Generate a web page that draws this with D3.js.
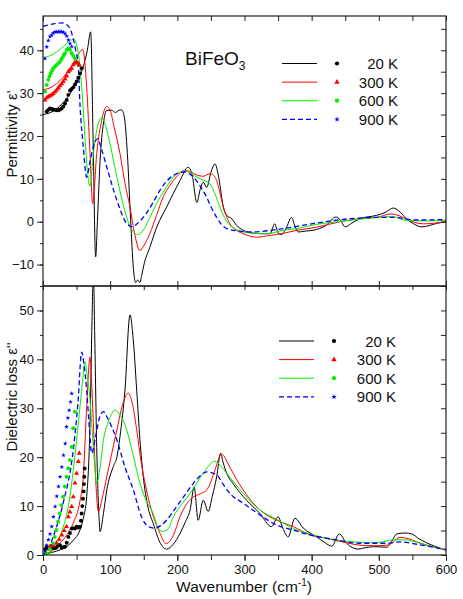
<!DOCTYPE html>
<html>
<head>
<meta charset="utf-8">
<script src="https://cdn.jsdelivr.net/npm/d3@7"></script>
<style>
  body { margin: 0; background: #fff; }
  #chart text { font-family: "Liberation Sans", Arial, Helvetica, sans-serif; fill: #111; }
</style>
</head>
<body>
<div id="chart"></div>
<script>
// Temperatures (legend order)
const temps = ["20 K", "300 K", "600 K", "900 K"];

// Permittivity eps' fits, [wavenumber, value]
const epsReal20 = [[0,25],[10,25.4],[20,26.3],[30,27.8],[40,29.8],[50,32.5],[60,36.2],[66,40],[71,44.3],[74.5,20],[78.4,-8.2],[81,0],[85,14.3],[90,23],[95,26],[102,26],[108,25.5],[113,26],[117,26.1],[121,24.5],[125.6,15.9],[130.5,0.3],[134.5,-10.7],[138,-14.2],[141,-13.6],[144,-14.2],[147,-12.5],[150,-10.2],[159,-6],[170,-1],[184,3.4],[204,9.6],[216,12.7],[222,11],[229,4.5],[234,7.5],[238.6,9.2],[243.7,8],[250,11.5],[256,13.5],[262,10],[268.5,3.4],[273.5,1.5],[281,0.7],[288,-0.8],[298,-2],[310,-2.6],[325,-2.8],[338,-2.8],[345,-0.5],[350,-2.6],[355,-3],[362,-1.5],[370,1],[375,-1],[380,-2.4],[390,-2.2],[402,-2],[422,-0.8],[436,1.1],[442,0.5],[450,-1.2],[460,-0.3],[472,0.7],[497,1.5],[510,2.2],[521.5,3.2],[530,2.5],[541,0.7],[552,-0.5],[564,-1.2],[575,-0.9],[586,-0.4],[600,0]];
const epsReal300 = [[0,30.8],[10,31.2],[20,32.2],[30,33.7],[40,35.7],[50,38.3],[59,40.2],[65,31.5],[70,15.9],[74,4.2],[80,15.9],[87.4,23.7],[95,26.9],[100,26],[106,22],[114.6,15.9],[122,9],[129.5,3.4],[136,-2.5],[144.4,-6.7],[150,-5.6],[159,-2.8],[169,1.5],[179,5.8],[189,8.5],[199,10.5],[211,12],[220,11.6],[229,10.9],[238.6,10.6],[248.6,11.2],[254,10.8],[258.6,9.6],[263,7],[268.5,3.4],[278,-0.4],[288,-2],[298,-2.8],[318,-3.6],[338,-3.2],[358,-2.7],[378,-2],[407,-1.3],[442,0],[472,0.7],[497,1.0],[517,1.8],[530,1.4],[541,0.6],[566,-0.5],[600,0]];
const epsReal600 = [[0,38.3],[10,38.7],[20,39.6],[30,40.8],[40,42.2],[46,42.6],[52.6,39.3],[57.6,31.5],[62.5,19.8],[66,12],[70,8.3],[75,15.9],[81,22.1],[87.4,24.3],[92,23],[100,18],[110,10.4],[117,5.5],[124.6,1.0],[132,-1.8],[141,-3],[150,-1.8],[159,1.0],[169,4.2],[179,6.9],[189,9.3],[199,11.2],[211,11.8],[220,11.3],[229,10.4],[240,9.6],[248.6,8.8],[256,6.5],[263.5,3.4],[270,1],[278,-0.8],[288,-1.8],[298,-2.4],[333,-2.8],[358,-2],[378,-1.6],[407,-0.6],[440,0],[472,0.6],[497,1.0],[521,1.2],[541,0.3],[570,0.2],[600,0.3]];
const epsReal900 = [[0,45.6],[10,46],[20,46.3],[28,46.4],[35,46],[43,43.9],[48,40.5],[52.6,36.1],[55,27.5],[60,17.4],[65,10.4],[70,14],[75,17.5],[81,19.4],[87,17],[95,12.7],[110,5.0],[124.6,-0.4],[133,-1.2],[140,-0.5],[154,2.0],[164,4.5],[174,7.3],[194,10.8],[211,11.6],[224,10.4],[234,8.3],[243.7,5.7],[250,3.5],[258.6,1.0],[265,-0.5],[273.5,-1.6],[293,-2.2],[308,-2.4],[358,-1.6],[407,-0.3],[457,0.7],[497,1.0],[521,1.0],[556,0.4],[600,0.5]];

// Permittivity eps' measured points (low frequency)
const epsRealPts20 = [[5.5,25.7],[8,26.1],[10.4,26.4],[13,26.3],[15.3,26.2],[18,26.1],[20.4,26],[22.8,26],[25.3,26.2],[27.8,26.4],[30.2,26.9],[32.8,27.6],[35.3,28.4],[37.7,29.6],[40.2,30.6],[42.7,31],[45.1,31.4],[47.6,32],[50.1,32.7],[52.6,33.6],[55,34.6],[57.6,35.8]];
const epsRealPts300 = [[3,28.4],[5.5,28.9],[7.9,29.2],[10.4,29.4],[12.9,29.6],[15.3,29.9],[17.9,30.3],[20.4,30.7],[22.8,31.2],[25.3,31.7],[27.8,32.2],[30.2,32.7],[32.8,33.3],[35.3,34],[37.7,35],[40.2,35.4],[42.7,35.8],[45.1,36.6],[47.6,37],[50.1,37.3],[52,37],[54,36.6]];
const epsRealPts600 = [[3,30.4],[5.5,31.9],[7.9,33.1],[9.6,33.9],[11.4,34.6],[13.3,35.2],[15.3,35.8],[17.9,36.2],[20.4,36.6],[22.8,37],[25.3,37.3],[27.3,37.9],[29.3,38.4],[31,38.9],[32.8,39.3],[35.3,40.1],[37.7,40.5],[40.2,40.1],[42.7,39.3],[45.1,38.7],[47.6,38.1]];
const epsRealPts900 = [[3,38.1],[5.5,40.8],[7.9,42.3],[10.4,43.2],[12.9,43.5],[15.3,44],[17.9,44.3],[20.4,44.3],[22.8,44.3],[25.3,44.4],[27.8,44.3],[30.2,44.2],[32.8,43.9],[35.3,43.3],[37.7,42.4],[40.2,41.6],[42.7,40.9]];

// Dielectric loss eps'' fits
const epsImag20 = [[0,0],[10,0.4],[20,0.8],[35,1.7],[45,3],[55,5.1],[60,7.5],[65,11.9],[70,27],[73,48],[75,58],[77,45],[80,22],[83,9],[85,4.8],[90,8.5],[95,13.3],[104.7,18.1],[110,20],[114.6,24.2],[122,33.7],[129.5,49.1],[134.4,44],[139.5,33.7],[144.4,23.5],[149.3,16],[156,10],[164,6.5],[174,2.6],[184,1.2],[194,2.2],[204,4.4],[212,6.8],[219,9.2],[225,13.9],[231,7.1],[238.6,11.2],[246,8.9],[252,12],[258.6,16],[264.5,20.8],[268,19],[273.5,16.7],[283,14.6],[303,11.2],[323,8.5],[340,5.8],[350,7.8],[357,5.5],[365,3.7],[375,7.5],[387.5,5.5],[407.5,3.7],[420,2.5],[430,1.8],[441,4.3],[452,2.4],[469,1.2],[480,1.5],[492,1.7],[512,1.6],[520,3],[526.6,4.3],[540,4.5],[549,4.3],[560,3.3],[571,2.5],[585,1.7],[600,1.0]];
const epsImag300 = [[0,0],[10,0.6],[25,2.4],[35,4],[45,6.5],[55,11],[60,16],[65,30.3],[70,40.5],[72.5,35],[75,26.9],[79,14],[82.4,8.9],[88,11.5],[95,16],[102,20.5],[110,25.6],[118,30.5],[127,33.1],[133,31],[139.5,25.6],[146.7,18.5],[154,13.3],[164,8],[174,4.5],[183,2.3],[194,4],[204,7.8],[214,10.5],[224,11.9],[234,12.5],[243.7,13.3],[250,15],[256,17.4],[266,20.6],[278,18],[288,15.5],[298,13.3],[323,9.2],[348,7.1],[372.6,5.8],[397.5,4.1],[422,3.4],[452,2.5],[472,2.0],[492,1.9],[512,2.0],[522,2.8],[531.5,3.6],[545,3.3],[556,2.7],[580,1.7],[600,1.0]];
const epsImag600 = [[0,0],[10,0.3],[25,3.7],[40,11.9],[50,23.5],[57.6,33.7],[62.5,39.5],[66,36.5],[70,31.7],[75,22],[80,14.7],[85,18],[90,23.5],[98,27.5],[107,29.6],[115,28.6],[124.6,25.6],[134,20.5],[144.4,14.7],[154,11],[164,8.5],[170,6],[177,4.8],[186,5.3],[194,7.8],[206,10.3],[219,12.6],[238.6,16.7],[256,19.2],[264,18.3],[273.5,16.7],[298,12.6],[323,9.2],[348,7.3],[372.6,5.4],[397.5,4.3],[422,3.4],[447,2.9],[472,2.6],[492,2.5],[510,2.8],[521.5,3.1],[541,3.1],[556,2.6],[571,2.0],[600,1.1]];
const epsImag900 = [[0,0.3],[5,0.3],[15,3.7],[30,10.6],[45,21.4],[52,31],[57.6,41.5],[61,39],[65,33.7],[69,26],[72.5,20.8],[78,24],[84,28],[90,29.3],[96,28],[110,23.5],[122,18],[134.5,13.3],[146.7,7.8],[157,5.8],[166,5.5],[175,6],[184,7.1],[199,9.9],[214,12.8],[224,14.7],[235,16.3],[243.7,17],[258.6,16.4],[268,14.5],[278,12.6],[298,10.6],[323,8.2],[348,6.1],[372.6,5.1],[397.5,4.1],[432,3.2],[472,2.4],[512,2.4],[531.5,2.7],[556,2.2],[600,1.1]];

// Dielectric loss eps'' measured points
const epsImagPts20 = [[3,1.2],[5.5,1.7],[8,1.3],[10.4,1.5],[13,1.9],[15.3,1.4],[18,1.4],[20.4,1.6],[22.8,2.0],[25.3,2.0],[27.8,1.5],[30.2,1.6],[32.8,1.7],[35.3,2.5],[37.7,3.7],[40.2,4.5],[42.7,5.4],[45.1,5.5],[47.6,5.4],[50,5.8],[52.6,5.6],[55,5.8],[56.5,7],[57.5,8.5],[58.5,10],[59.5,11.5],[60.5,13],[61,14.5],[61.5,16],[62,17.7]];
const epsImagPts300 = [[10.4,1.7],[15,2],[20,2.4],[24,3.2],[28,4.1],[31.5,5],[35,5.8],[37.7,7.8],[40,8.8],[42.7,9.9],[45,11.9],[47.6,14.7],[50,16.7],[52.6,19.1],[54,20.8]];
const epsImagPts600 = [[5.5,0.3],[10,1.2],[15,2.4],[17.5,3.7],[20,5.1],[22.5,6.8],[25,8.5],[27.5,10.2],[30,11.9],[32.5,14],[35,16],[37.5,17.7],[40,19.4],[42.7,22.1],[45,25.9],[47.6,29.3]];
const epsImagPts900 = [[3,0.7],[5.5,2],[8,3.1],[10.5,4.3],[13,5.8],[15.5,7.8],[18,9.9],[20.5,12],[23,14],[25.5,16],[28,18],[30.5,20.4],[33,22.8],[35,26.2],[37,28],[39,29.6],[41,31.3],[42.7,33]];

// Tick values
const xTicks = [0, 100, 200, 300, 400, 500, 600];
const topTicks = [-10, 0, 10, 20, 30, 40];
const botTicks = [0, 10, 20, 30, 40, 50];

const colors = ["#000000", "#ff0000", "#00ee00", "#0000ff"];
const symbols = [d3.symbolCircle, d3.symbolTriangle, d3.symbolCircle, d3.symbolStar];
const symSizes = [12, 11, 12, 7];

let svg = d3.select("#chart").append("svg")
    .attr("width", 463)
    .attr("height", 599);

let left = 43, right = 446;
let x = d3.scaleLinear().domain([0, 600]).range([left, right]);
let yTop = d3.scaleLinear().domain([-15, 48]).range([286, 16]);
let yBot = d3.scaleLinear().domain([0, 55]).range([555, 286]);

let panels = [
    {y: yTop, lines: [epsReal20, epsReal300, epsReal600, epsReal900],
     pts: [epsRealPts20, epsRealPts300, epsRealPts600, epsRealPts900],
     ticks: topTicks, minor: d3.range(-15, 48, 5), label: "Permittivity ε'", labelY: 134,
     legX: 282, legY: 63.5, textX: 398},
    {y: yBot, lines: [epsImag20, epsImag300, epsImag600, epsImag900],
     pts: [epsImagPts20, epsImagPts300, epsImagPts600, epsImagPts900],
     ticks: botTicks, minor: d3.range(0, 56, 5), label: "Dielectric loss ε''", labelY: 397,
     legX: 279, legY: 341, textX: 396}
];

let defs = svg.append("defs");

panels.forEach(function(p, i) {
    let y = p.y;
    let top = y.range()[1], bottom = y.range()[0];

    defs.append("clipPath").attr("id", "clip" + i)
        .append("rect")
        .attr("x", left).attr("y", top)
        .attr("width", right - left).attr("height", bottom - top);

    let g = svg.append("g").attr("clip-path", "url(#clip" + i + ")");

    // Fitted curves
    let line = d3.line()
        .x(function(d) { return x(d[0]); })
        .y(function(d) { return y(d[1]); })
        .curve(d3.curveMonotoneX);

    p.lines.forEach(function(data, k) {
        g.append("path")
            .datum(data)
            .attr("d", line)
            .attr("fill", "none")
            .attr("stroke", colors[k])
            .attr("stroke-width", k == 3 ? 1.3 : 1)
            .attr("stroke-dasharray", k == 3 ? "5,3" : null);
    });

    // Measured points
    p.pts.forEach(function(data, k) {
        g.selectAll(null)
            .data(data)
            .enter().append("path")
            .attr("d", d3.symbol().type(symbols[k]).size(symSizes[k]))
            .attr("transform", function(d) { return "translate(" + x(d[0]) + "," + y(d[1]) + ")"; })
            .attr("fill", colors[k]);
    });

    // Left axis, outward ticks
    svg.append("g")
        .attr("transform", "translate(" + left + ",0)")
        .call(d3.axisLeft(y).tickValues(p.minor).tickSize(3).tickFormat(""))
        .call(function(a) { a.select(".domain").remove(); });
    svg.append("g")
        .attr("transform", "translate(" + left + ",0)")
        .call(d3.axisLeft(y).tickValues(p.ticks).tickSize(6).tickPadding(3).tickFormat(d3.format("d")))
        .call(function(a) { a.select(".domain").remove(); a.selectAll("text").style("font-size", "13px"); });

    // Right axis, inward ticks
    svg.append("g")
        .attr("transform", "translate(" + right + ",0)")
        .call(d3.axisLeft(y).tickValues(p.minor).tickSize(5).tickFormat(""))
        .call(function(a) { a.select(".domain").remove(); });

    // Y title
    svg.append("text")
        .attr("transform", "translate(17," + p.labelY + ") rotate(-90)")
        .attr("text-anchor", "middle")
        .style("font-size", "15px")
        .text(p.label);

    // Legend
    temps.forEach(function(t, k) {
        let ly = p.legY + k * 18.6;
        svg.append("line")
            .attr("x1", p.legX).attr("x2", p.legX + 35)
            .attr("y1", ly).attr("y2", ly)
            .attr("stroke", colors[k])
            .attr("stroke-width", k == 3 ? 1.3 : 1)
            .attr("stroke-dasharray", k == 3 ? "5,3" : null);
        svg.append("path")
            .attr("d", d3.symbol().type(symbols[k]).size(symSizes[k] + 2))
            .attr("transform", "translate(" + (p.legX + 55) + "," + ly + ")")
            .attr("fill", colors[k]);
        svg.append("text")
            .attr("x", p.textX).attr("y", ly + 5.5)
            .attr("text-anchor", "end")
            .style("font-size", "15px")
            .text(t);
    });
});

// Top edge ticks (inward), shared middle ticks, bottom axis
let xMinor = d3.range(0, 601, 50);
svg.append("g")
    .attr("transform", "translate(0,16)")
    .call(d3.axisBottom(x).tickValues(xMinor).tickSize(5).tickFormat(""))
    .call(function(a) { a.select(".domain").remove(); });
svg.append("g")
    .attr("transform", "translate(0,286)")
    .call(d3.axisBottom(x).tickValues(xMinor).tickSize(4).tickFormat(""))
    .call(function(a) { a.select(".domain").remove(); });
svg.append("g")
    .attr("transform", "translate(0,286)")
    .call(d3.axisTop(x).tickValues(xTicks).tickSize(5).tickFormat(""))
    .call(function(a) { a.select(".domain").remove(); });
svg.append("g")
    .attr("transform", "translate(0,555)")
    .call(d3.axisBottom(x).tickValues(xMinor).tickSize(5).tickFormat(""))
    .call(function(a) { a.select(".domain").remove(); });
svg.append("g")
    .attr("transform", "translate(0,555)")
    .call(d3.axisBottom(x).tickValues(xTicks).tickSize(6).tickPadding(4).tickFormat(d3.format("d")))
    .call(function(a) { a.select(".domain").remove(); a.selectAll("text").style("font-size", "13px"); });

// Frames
[[16, 286], [286, 555]].forEach(function(r) {
    svg.append("rect")
        .attr("x", left).attr("y", r[0])
        .attr("width", right - left).attr("height", r[1] - r[0])
        .attr("fill", "none")
        .attr("stroke", "#222")
        .attr("stroke-width", 1.2);
});
svg.selectAll(".tick line").attr("stroke", "#222");

// X title
let xt = svg.append("text")
    .attr("x", 244).attr("y", 592)
    .attr("text-anchor", "middle")
    .style("font-size", "15.5px");
xt.append("tspan").text("Wavenumber (cm");
xt.append("tspan").attr("dy", -6).style("font-size", "10px").text("-1");
xt.append("tspan").attr("dy", 6).text(")");

// Compound label
let bf = svg.append("text")
    .attr("x", 185).attr("y", 65)
    .style("font-size", "19px");
bf.append("tspan").text("BiFeO");
bf.append("tspan").attr("dy", 5).style("font-size", "12px").text("3");
</script>
</body>
</html>
